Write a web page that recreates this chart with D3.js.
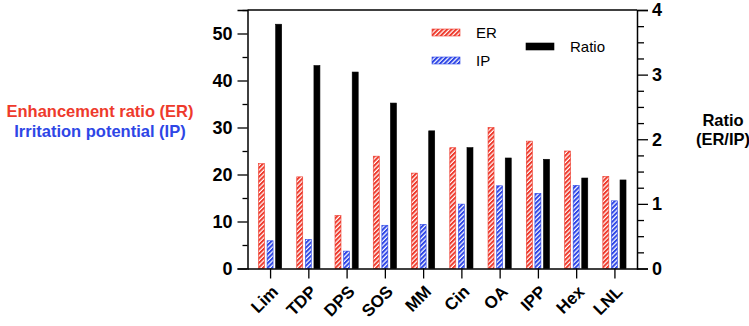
<!DOCTYPE html>
<html>
<head>
<meta charset="utf-8">
<script src="https://cdn.jsdelivr.net/npm/d3@7"></script>
<style>
  body { margin: 0; background: #fff; }
  text { font-family: "Liberation Sans", Arial, Helvetica, sans-serif; }
</style>
</head>
<body>
<div id="draw"></div>
<script>
var categories = ["Lim", "TDP", "DPS", "SOS", "MM", "Cin", "OA", "IPP", "Hex", "LNL"];
var erValues = [22.3, 19.5, 11.3, 23.9, 20.3, 25.7, 30.0, 27.1, 25.0, 19.6];
var ipValues = [5.9, 6.2, 3.7, 9.2, 9.4, 13.7, 17.6, 16.0, 17.7, 14.4];
var ratioValues = [3.78, 3.14, 3.04, 2.56, 2.13, 1.87, 1.71, 1.69, 1.40, 1.37];
var leftTicks = [0, 10, 20, 30, 40, 50];
var rightTicks = [0, 1, 2, 3, 4];

var width = 749, height = 326;
var red = "#ee3a2c", blue = "#2e46e6";

var svg = d3.select("#draw").append("svg")
	.attr("width", width)
	.attr("height", height);

// hatch fills
var defs = svg.append("defs");
function hatch(id, color) {
	var p = defs.append("pattern")
		.attr("id", id)
		.attr("patternUnits", "userSpaceOnUse")
		.attr("width", 3.2)
		.attr("height", 3.2)
		.attr("patternTransform", "rotate(45)");
	p.append("rect").attr("width", 3.2).attr("height", 3.2).attr("fill", "#fff");
	p.append("rect").attr("width", 2).attr("height", 3.2).attr("fill", color);
}
hatch("hatchRed", red);
hatch("hatchBlue", blue);

var x0 = 247.5, x1 = 637, yBottom = 268.5, yTop = 10;

var x = d3.scalePoint()
	.domain(categories)
	.range([x0, x1])
	.padding(0.59);

var yLeft = d3.scaleLinear().domain([0, 55]).range([yBottom, yTop]);
var yRight = d3.scaleLinear().domain([0, 4]).range([yBottom, yTop]);

var barW = 6, pitch = 8.6;

// bars
var groups = [
	{ values: erValues, scale: yLeft, off: -pitch, fill: "url(#hatchRed)", stroke: red },
	{ values: ipValues, scale: yLeft, off: 0, fill: "url(#hatchBlue)", stroke: blue },
	{ values: ratioValues, scale: yRight, off: pitch, fill: "#000", stroke: "#000" }
];
groups.forEach(function(g) {
	svg.selectAll(null)
		.data(g.values)
		.enter()
		.append("rect")
		.attr("x", function(d, i){ return x(categories[i]) + g.off - barW / 2; })
		.attr("y", function(d){ return g.scale(d); })
		.attr("width", barW)
		.attr("height", function(d){ return yBottom - g.scale(d); })
		.attr("fill", g.fill)
		.attr("stroke", g.stroke)
		.attr("stroke-width", 0.6);
});

// top frame line
svg.append("line")
	.attr("x1", x0).attr("x2", x1)
	.attr("y1", yTop).attr("y2", yTop)
	.attr("stroke", "#000").attr("stroke-width", 1.5);

// left axis
var leftAxis = svg.append("g")
	.attr("transform", "translate(" + x0 + ",0)")
	.call(d3.axisLeft(yLeft).tickValues(leftTicks).tickSize(10).tickPadding(5));
svg.append("g")
	.attr("transform", "translate(" + x0 + ",0)")
	.call(d3.axisLeft(yLeft).tickValues([5, 15, 25, 35, 45, 55]).tickSize(5).tickFormat(""))
	.select(".domain").remove();

// right axis
var rightAxis = svg.append("g")
	.attr("transform", "translate(" + x1 + ",0)")
	.call(d3.axisRight(yRight).tickValues(rightTicks).tickSize(11).tickPadding(4)
		.tickFormat(d3.format("d")));
var minorR = d3.range(0.25, 4, 0.25).filter(function(v){ return v % 1 !== 0; });
svg.append("g")
	.attr("transform", "translate(" + x1 + ",0)")
	.call(d3.axisRight(yRight).tickValues(minorR).tickSize(7).tickFormat(""))
	.select(".domain").remove();

// bottom axis (labels drawn separately, rotated)
var bottomAxis = svg.append("g")
	.attr("transform", "translate(0," + yBottom + ")")
	.call(d3.axisBottom(x).tickSize(10).tickSizeOuter(0).tickFormat(""));

[leftAxis, rightAxis, bottomAxis].forEach(function(a) {
	a.select(".domain").attr("stroke-width", 1.5);
	a.selectAll(".tick text")
		.attr("fill", "#000")
		.style("font-size", "18px")
		.style("font-weight", "bold");
});
svg.selectAll(".tick line").attr("stroke-width", 1.3);

svg.selectAll(".xlabel")
	.data(categories)
	.enter()
	.append("text")
	.attr("class", "xlabel")
	.attr("text-anchor", "end")
	.attr("dy", "0.35em")
	.style("font-size", "17px")
	.style("font-weight", "bold")
	.style("transform-box", "view-box")
	.style("transform", function(d){
		return "translate(" + (x(d) + 5) + "px," + (yBottom + 20) + "px) rotate(-45deg)";
	})
	.text(function(d){ return d; });

// axis titles
svg.append("text")
	.attr("x", 100).attr("y", 117)
	.attr("text-anchor", "middle")
	.attr("fill", red)
	.style("font-size", "16.5px").style("font-weight", "bold")
	.text("Enhancement ratio (ER)");
svg.append("text")
	.attr("x", 100).attr("y", 137)
	.attr("text-anchor", "middle")
	.attr("fill", blue)
	.style("font-size", "16.5px").style("font-weight", "bold")
	.text("Irritation potential (IP)");
svg.append("text")
	.attr("x", 723).attr("y", 126)
	.attr("text-anchor", "middle")
	.style("font-size", "16.5px").style("font-weight", "bold")
	.text("Ratio");
svg.append("text")
	.attr("x", 723).attr("y", 145)
	.attr("text-anchor", "middle")
	.style("font-size", "16.5px").style("font-weight", "bold")
	.text("(ER/IP)");

// legend
var legend = [
	{ name: "ER", fill: "url(#hatchRed)", stroke: red, x: 432, y: 29 },
	{ name: "IP", fill: "url(#hatchBlue)", stroke: blue, x: 432, y: 57 },
	{ name: "Ratio", fill: "#000", stroke: "#000", x: 526, y: 43 }
];
legend.forEach(function(l) {
	svg.append("rect")
		.attr("x", l.x).attr("y", l.y)
		.attr("width", 28).attr("height", 7)
		.attr("fill", l.fill).attr("stroke", l.stroke).attr("stroke-width", 0.6);
	svg.append("text")
		.attr("x", l.x + 44).attr("y", l.y + 9)
		.style("font-size", "15px")
		.text(l.name);
});
</script>
</body>
</html>
